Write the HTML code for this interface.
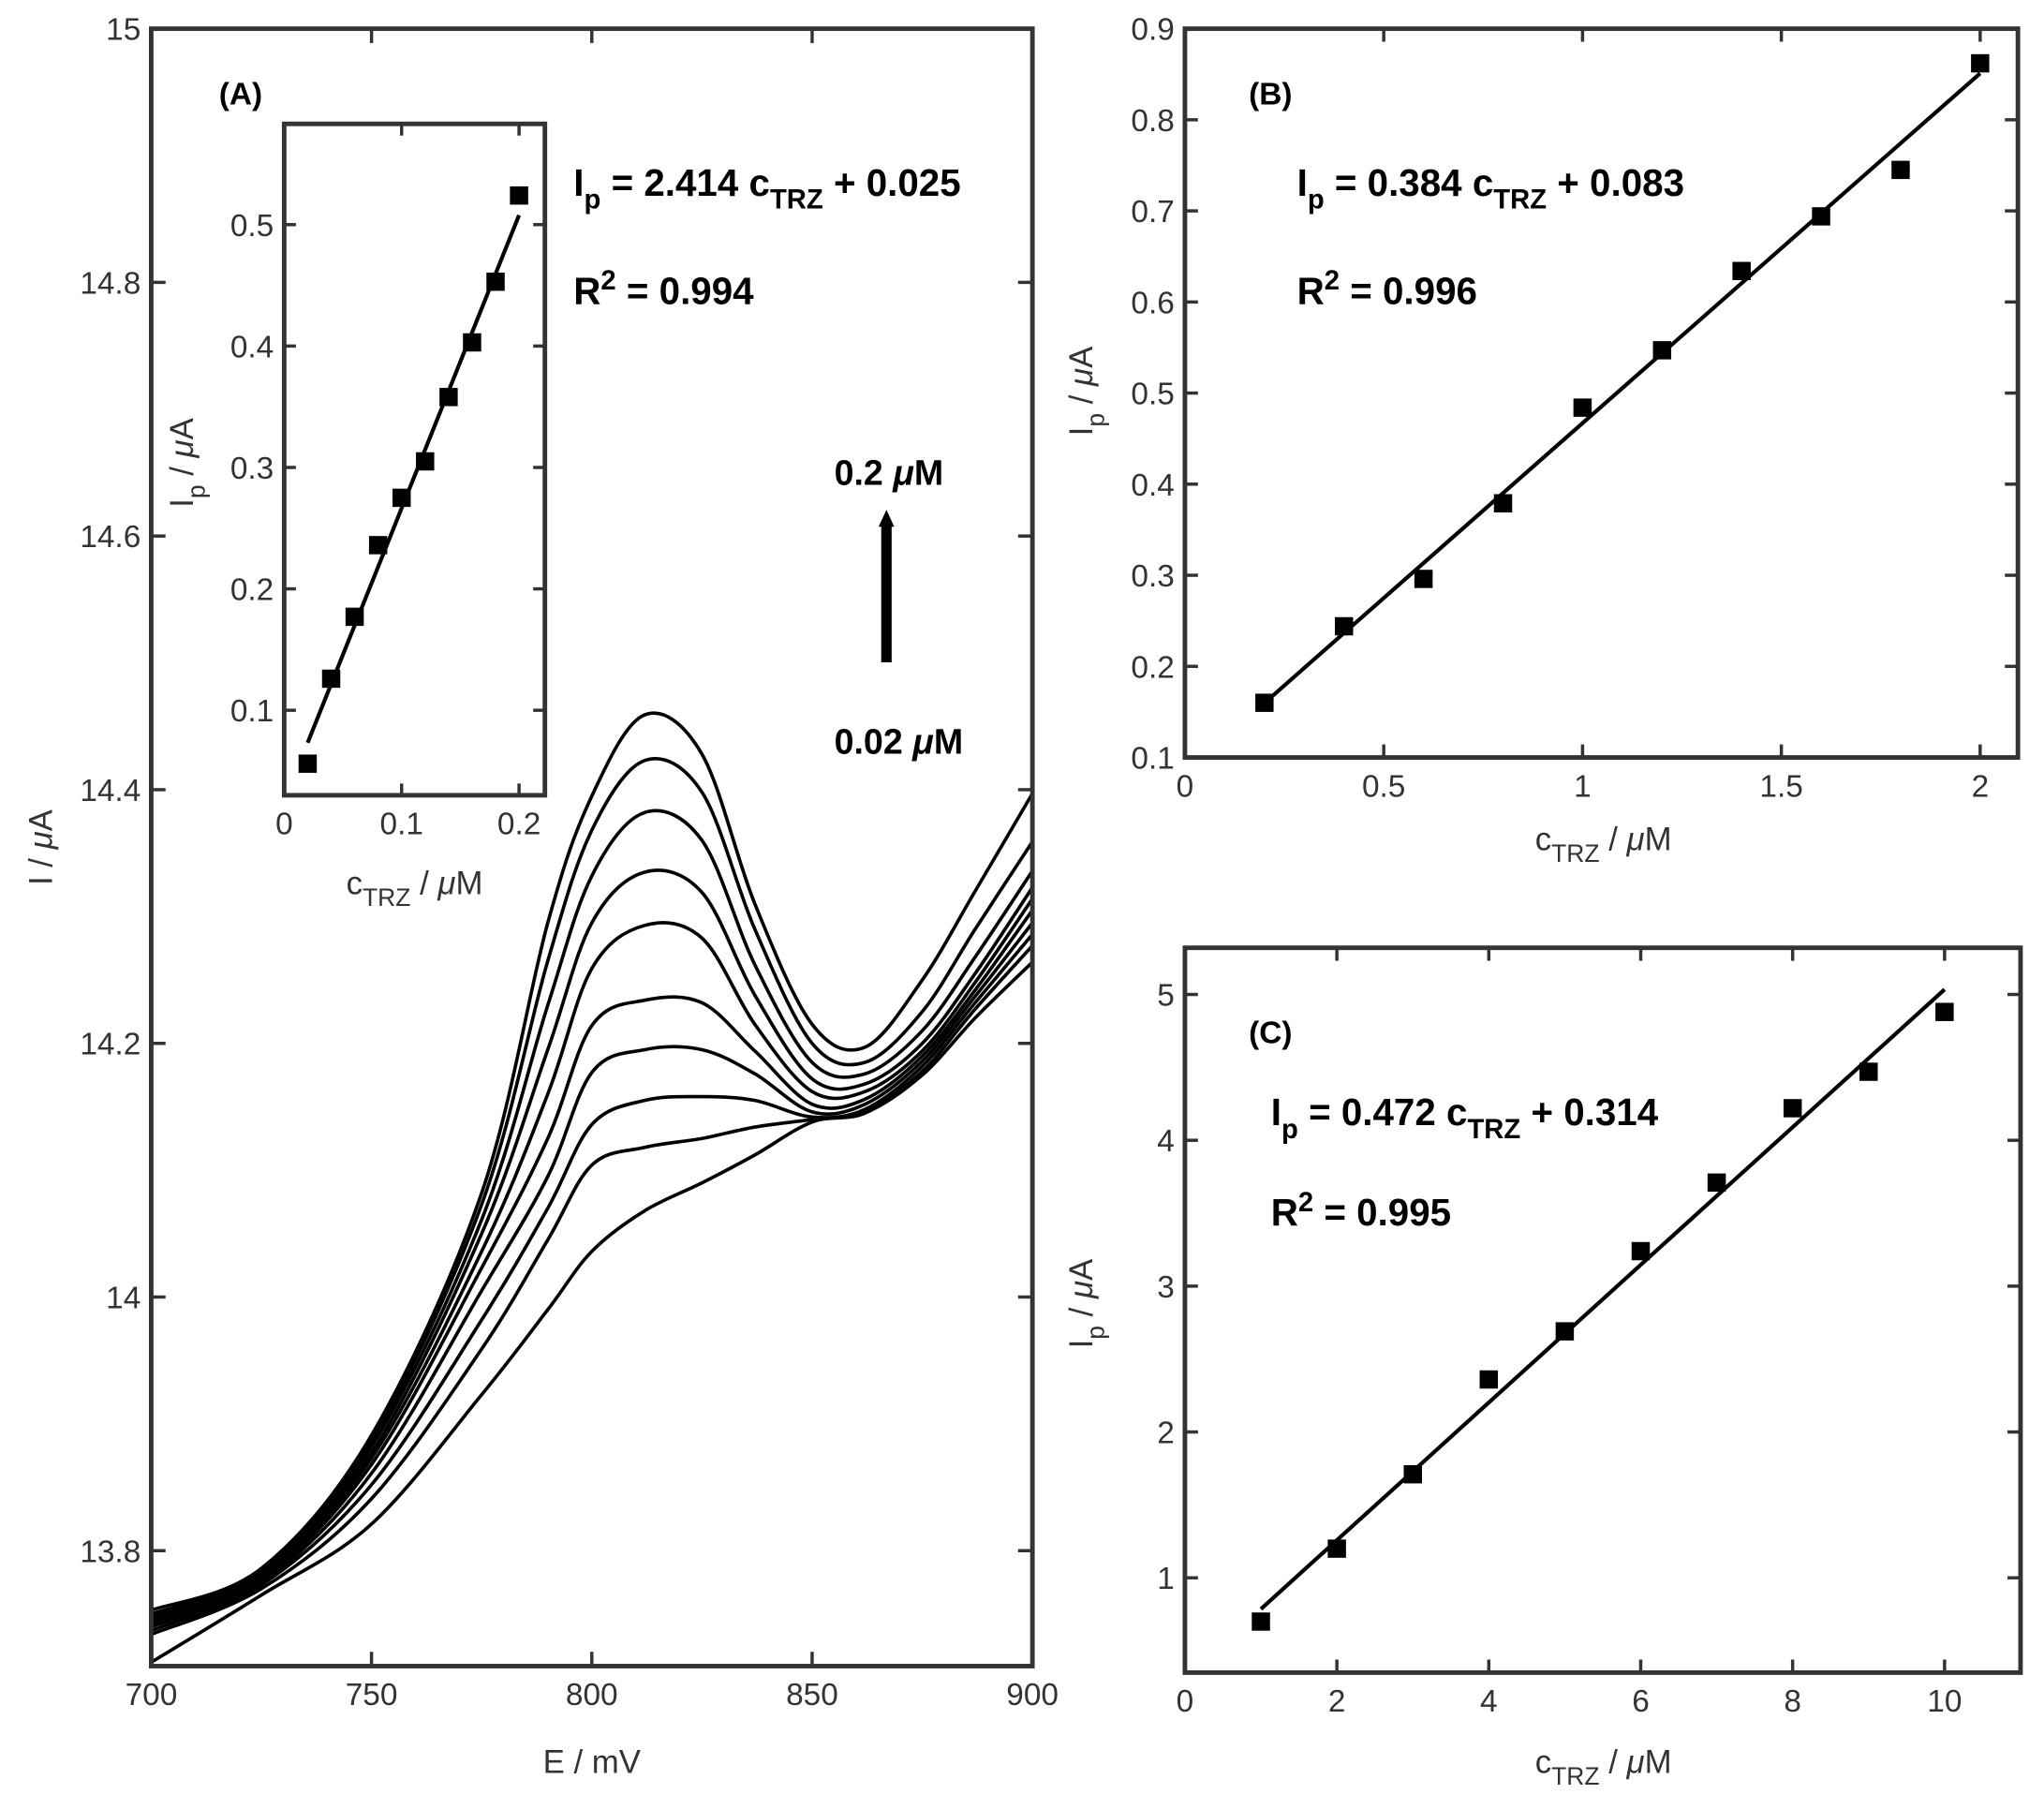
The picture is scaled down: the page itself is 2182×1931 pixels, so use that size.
<!DOCTYPE html>
<html><head><meta charset="utf-8"><style>
html,body{margin:0;padding:0;background:#fff;}
svg{display:block;}
text{font-family:"Liberation Sans",Arial,sans-serif;fill:#333;}
.b{font-family:"Liberation Sans Narrow","Liberation Sans",sans-serif;font-weight:bold;fill:#000;}
</style></head><body>
<svg id="fig" width="2182" height="1931" viewBox="0 0 1568 1387.6" xmlns="http://www.w3.org/2000/svg">
<g id="g"></g>
</svg>
<script>
// ---- Panel A data (DPV curves) ----
const potentials = [700,725,750,775,790,800,812,825,837,850,862,875,887,900];
const curve1 = [13.753,13.786,13.891,14.082,14.295,14.395,14.459,14.428,14.310,14.215,14.197,14.250,14.320,14.397];
const curve2 = [13.750,13.784,13.886,14.073,14.265,14.368,14.423,14.398,14.290,14.200,14.185,14.225,14.290,14.359];
const curve3 = [13.748,13.782,13.882,14.061,14.230,14.332,14.382,14.360,14.262,14.185,14.176,14.210,14.268,14.336];
const curve4 = [13.746,13.780,13.877,14.050,14.195,14.295,14.335,14.319,14.238,14.172,14.168,14.200,14.255,14.323];
const curve5 = [13.744,13.779,13.873,14.036,14.160,14.259,14.293,14.283,14.215,14.162,14.162,14.194,14.248,14.314];
const curve6 = [13.742,13.777,13.868,14.023,14.125,14.214,14.234,14.232,14.194,14.152,14.156,14.190,14.242,14.305];
const curve7 = [13.740,13.775,13.861,14.005,14.095,14.177,14.195,14.195,14.176,14.146,14.152,14.186,14.237,14.295];
const curve8 = [13.737,13.773,13.852,13.982,14.070,14.136,14.155,14.158,14.155,14.142,14.148,14.182,14.232,14.286];
const curve9 = [13.734,13.770,13.841,13.959,14.045,14.104,14.118,14.125,14.134,14.140,14.146,14.178,14.227,14.277];
const curve10 = [13.712,13.765,13.821,13.923,13.990,14.036,14.068,14.090,14.112,14.138,14.145,14.175,14.220,14.264];
const curves = [curve1,curve2,curve3,curve4,curve5,curve6,curve7,curve8,curve9,curve10];
const aXTicks = [700,750,800,850,900];
const aYTicks = [13.8,14,14.2,14.4,14.6,14.8,15];
const aYLabels = ["13.8","14","14.2","14.4","14.6","14.8","15"];
// ---- Inset data ----
const insetConc = [0.02,0.04,0.06,0.08,0.10,0.12,0.14,0.16,0.18,0.20];
const insetIp = [0.056,0.126,0.177,0.236,0.275,0.305,0.358,0.403,0.453,0.524];
const insetSlope = 2.414, insetIntercept = 0.025;
const insetXTicks = [0,0.1,0.2];
const insetXLabels = ["0","0.1","0.2"];
const insetYTicks = [0.1,0.2,0.3,0.4,0.5];
const insetYLabels = ["0.1","0.2","0.3","0.4","0.5"];
// ---- Panel B data ----
const bConc = [0.2,0.4,0.6,0.8,1.0,1.2,1.4,1.6,1.8,2.0];
const bIp = [0.160,0.244,0.296,0.379,0.484,0.547,0.634,0.694,0.745,0.862];
const bSlope = 0.384, bIntercept = 0.083;
const bXTicks = [0,0.5,1,1.5,2];
const bXLabels = ["0","0.5","1","1.5","2"];
const bYTicks = [0.1,0.2,0.3,0.4,0.5,0.6,0.7,0.8,0.9];
const bYLabels = ["0.1","0.2","0.3","0.4","0.5","0.6","0.7","0.8","0.9"];
// ---- Panel C data ----
const cConc = [1,2,3,4,5,6,7,8,9,10];
const cIp = [0.70,1.20,1.71,2.36,2.69,3.24,3.71,4.22,4.47,4.88];
const cSlope = 0.472, cIntercept = 0.314;
const cXTicks = [0,2,4,6,8,10];
const cXLabels = ["0","2","4","6","8","10"];
const cYTicks = [1,2,3,4,5];
const cYLabels = ["1","2","3","4","5"];

const NS = "http://www.w3.org/2000/svg";
const G = document.getElementById('g');
function el(tag, attrs, parent){
  const e = document.createElementNS(NS, tag);
  for (const k in attrs) e.setAttribute(k, attrs[k]);
  (parent||G).appendChild(e);
  return e;
}
function lin(d0,d1,r0,r1){ return v => r0 + (v-d0)/(d1-d0)*(r1-r0); }

function axesBox(name, L,R,T,B, sx, sy, xt, xl, yt, yl, fs, tickLen){
  const grp = el('g',{});
  
  
  xt.forEach((v,i)=>{
    const x = sx(v);
    el('line',{x1:x,y1:B,x2:x,y2:B-tickLen,stroke:'#333','stroke-width':2.5},grp);
    el('line',{x1:x,y1:T,x2:x,y2:T+tickLen,stroke:'#333','stroke-width':2.5},grp);
    const t = el('text',{x:x,y:B+fs+6,'text-anchor':'middle','font-size':fs},grp);
    t.textContent = xl[i];
    
    
  });
  yt.forEach((v,i)=>{
    const y = sy(v);
    el('line',{x1:L,y1:y,x2:L+tickLen,y2:y,stroke:'#333','stroke-width':2.5},grp);
    el('line',{x1:R,y1:y,x2:R-tickLen,y2:y,stroke:'#333','stroke-width':2.5},grp);
    const t = el('text',{x:L-8,y:y+fs*0.36,'text-anchor':'end','font-size':fs},grp);
    t.textContent = yl[i];
    
    
  });
  const r = el('rect',{x:L,y:T,width:R-L,height:B-T,fill:'none',stroke:'#333','stroke-width':3.5},grp);
  
  
}

function catmull(pts){
  let d = 'M'+pts[0][0]+','+pts[0][1];
  for (let i=0;i<pts.length-1;i++){
    const p0=pts[Math.max(0,i-1)], p1=pts[i], p2=pts[i+1], p3=pts[Math.min(pts.length-1,i+2)];
    const c1x=p1[0]+(p2[0]-p0[0])/6, c1y=p1[1]+(p2[1]-p0[1])/6;
    const c2x=p2[0]-(p3[0]-p1[0])/6, c2y=p2[1]-(p3[1]-p1[1])/6;
    d += ' C'+c1x+','+c1y+' '+c2x+','+c2y+' '+p2[0]+','+p2[1];
  }
  return d;
}

function scatter(name, xs, ys, sx, sy, size){
  xs.forEach((v,i)=>{
    const r = el('rect',{x:sx(v)-size/2,y:sy(ys[i])-size/2,width:size,height:size,fill:'#000'});
    
    
  });
}
function fitLine(name, x0,x1,m,b,sx,sy){
  const l = el('line',{x1:sx(x0),y1:sy(m*x0+b),x2:sx(x1),y2:sy(m*x1+b),stroke:'#000','stroke-width':3});
  
  
}
function txt(name,x,y,fs,cls,html,anchor,rot){
  const t = el('text',{x:x,y:y,'font-size':fs});
  if (cls) t.setAttribute('class',cls);
  if (anchor) t.setAttribute('text-anchor',anchor);
  if (rot) t.setAttribute('transform','rotate(-90 '+x+' '+y+')');
  t.innerHTML = html;
  
  
  return t;
}

// ===== Panel A =====
const AL=116, AR=792, AT=22, AB=1278;
const ax = lin(700,900,AL,AR);
const ay = lin(15,13.709,AT,AB);
const cg = el('g',{});


curves.forEach((c,k)=>{
  const pts = potentials.map((e,i)=>[ax(e),ay(c[i])]);
  const p = el('path',{d:catmull(pts),fill:'none',stroke:'#000','stroke-width':2.6},cg);
  
  
});
axesBox('panel-a',AL,AR,AT,AB,ax,ay,aXTicks,aXTicks.map(String),aYTicks,aYLabels,24,11);
txt('panel-a-x-axis-title',(AL+AR)/2,1360,25,'','E / mV','middle');
txt('panel-a-y-axis-title',40,650,25,'','I / <tspan font-style="italic">μ</tspan>A','middle',true);
txt('panel-a-label',168,80,24,'b','(A)');
txt('panel-a-equation',440,150,29,'b','I<tspan dy="10" font-size="21">p</tspan><tspan dy="-10"> = 2.414 c</tspan><tspan dy="10" font-size="21">TRZ</tspan><tspan dy="-10"> + 0.025</tspan>');
txt('panel-a-r2',440,233,29,'b','R<tspan dy="-11" font-size="21">2</tspan><tspan dy="11"> = 0.994</tspan>');
txt('high-conc-label',640,372,27,'b','0.2 <tspan font-style="italic">μ</tspan>M');
txt('low-conc-label',640,578,27,'b','0.02 <tspan font-style="italic">μ</tspan>M');
const arr = el('line',{x1:680,y1:508,x2:680,y2:402,stroke:'#000','stroke-width':8});


const ah = el('polygon',{points:'674,404 686,404 680,391',fill:'#000'});



// ===== Inset =====
const IL=218, IR=418, IT=95, IB=610;
const ix = lin(0,0.222,IL,IR);
const iy = lin(0.583,0.030,IT,IB);
el('rect',{x:IL,y:IT,width:IR-IL,height:IB-IT,fill:'#fff'});
fitLine('inset',0.02,0.2,insetSlope,insetIntercept,ix,iy);
scatter('inset',insetConc,insetIp,ix,iy,14);
axesBox('inset',IL,IR,IT,IB,ix,iy,insetXTicks,insetXLabels,insetYTicks,insetYLabels,24,9);
txt('inset-x-axis-title',318,686,25,'','c<tspan dy="9" font-size="19">TRZ</tspan><tspan dy="-9"> / </tspan><tspan font-style="italic">μ</tspan>M','middle');
txt('inset-y-axis-title',148,355,25,'','I<tspan dy="9" font-size="19">p</tspan><tspan dy="-9"> / </tspan><tspan font-style="italic">μ</tspan>A','middle',true);

// ===== Panel B =====
const BL=909, BR=1548, BT=22, BB=581;
const bx = lin(0,2.095,BL,BR);
const by = lin(0.9,0.1,BT,BB);
fitLine('panel-b',0.2,2.0,bSlope,bIntercept,bx,by);
scatter('panel-b',bConc,bIp,bx,by,14);
axesBox('panel-b',BL,BR,BT,BB,bx,by,bXTicks,bXLabels,bYTicks,bYLabels,24,10);
txt('panel-b-x-axis-title',1230,652,25,'','c<tspan dy="9" font-size="19">TRZ</tspan><tspan dy="-9"> / </tspan><tspan font-style="italic">μ</tspan>M','middle');
txt('panel-b-y-axis-title',838,300,25,'','I<tspan dy="9" font-size="19">p</tspan><tspan dy="-9"> / </tspan><tspan font-style="italic">μ</tspan>A','middle',true);
txt('panel-b-label',958,80,24,'b','(B)');
txt('panel-b-equation',995,150,29,'b','I<tspan dy="10" font-size="21">p</tspan><tspan dy="-10"> = 0.384 c</tspan><tspan dy="10" font-size="21">TRZ</tspan><tspan dy="-10"> + 0.083</tspan>');
txt('panel-b-r2',995,233,29,'b','R<tspan dy="-11" font-size="21">2</tspan><tspan dy="11"> = 0.996</tspan>');

// ===== Panel C =====
const CL=909, CR=1550, CT=727, CB=1283;
const cx = lin(0,11.0,CL,CR);
const cy = lin(5.32,0.35,CT,CB);
fitLine('panel-c',1,10,cSlope,cIntercept,cx,cy);
scatter('panel-c',cConc,cIp,cx,cy,14);
axesBox('panel-c',CL,CR,CT,CB,cx,cy,cXTicks,cXLabels,cYTicks,cYLabels,24,10);
txt('panel-c-x-axis-title',1230,1360,25,'','c<tspan dy="9" font-size="19">TRZ</tspan><tspan dy="-9"> / </tspan><tspan font-style="italic">μ</tspan>M','middle');
txt('panel-c-y-axis-title',838,1000,25,'','I<tspan dy="9" font-size="19">p</tspan><tspan dy="-9"> / </tspan><tspan font-style="italic">μ</tspan>A','middle',true);
txt('panel-c-label',958,800,24,'b','(C)');
txt('panel-c-equation',975,863,29,'b','I<tspan dy="10" font-size="21">p</tspan><tspan dy="-10"> = 0.472 c</tspan><tspan dy="10" font-size="21">TRZ</tspan><tspan dy="-10"> + 0.314</tspan>');
txt('panel-c-r2',975,940,29,'b','R<tspan dy="-11" font-size="21">2</tspan><tspan dy="11"> = 0.995</tspan>');
</script>
</body></html>
